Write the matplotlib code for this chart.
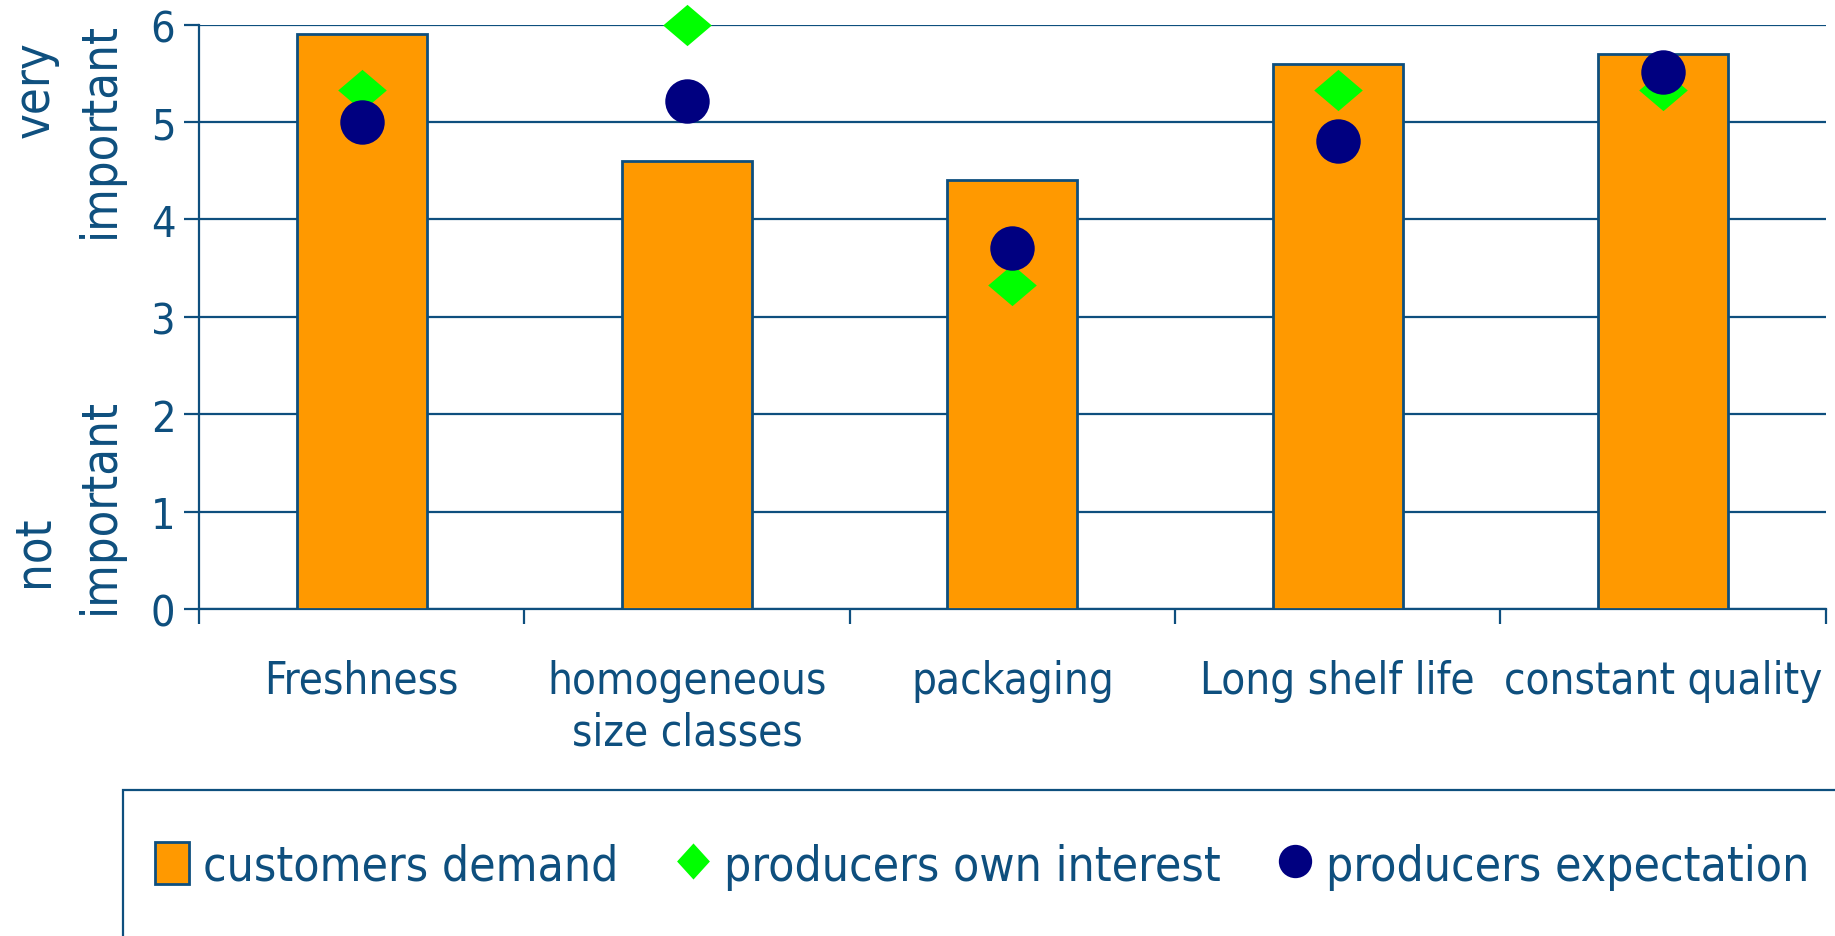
import matplotlib
matplotlib.use("Agg")
import matplotlib.pyplot as plt
import numpy as np
from matplotlib.patches import Rectangle
from matplotlib.lines import Line2D

# importance ratings, scale 0 (not important) .. 6 (very important)
CATEGORIES = ["Freshness", "homogeneous\nsize classes", "packaging",
              "Long shelf life", "constant quality"]
CUSTOMERS_DEMAND = [5.9, 4.6, 4.4, 5.6, 5.7]
PRODUCERS_OWN = [5.33, 6.0, 3.33, 5.33, 5.33]
PRODUCERS_EXPECT = [5.0, 5.22, 3.71, 4.81, 5.51]

BLUE = "#0E4F7E"
ORANGE = "#FF9900"
GREEN = "#00FF00"
NAVY = "#000080"

plt.rcParams["font.family"] = ["DejaVu Sans"]
plt.rcParams["font.stretch"] = "condensed"

# slightly flattened diamond
DIAMOND = [(-1, 0), (0, 0.85), (1, 0), (0, -0.85), (-1, 0)]

fig = plt.figure(figsize=(18.35, 9.37), dpi=100)
ax = fig.add_axes([0.1084, 0.349, 0.995 - 0.1084, 0.9726 - 0.349])

x = np.arange(1, len(CATEGORIES) + 1)
ax.bar(x, CUSTOMERS_DEMAND, width=0.4, color=ORANGE, edgecolor=BLUE,
       linewidth=2, zorder=3)
ax.plot(x, PRODUCERS_OWN, linestyle="none", marker=DIAMOND, color=GREEN,
        markersize=35, markeredgewidth=0, zorder=4, clip_on=False)
ax.plot(x, PRODUCERS_EXPECT, "o", color=NAVY, markersize=32, markeredgewidth=0,
        zorder=5, clip_on=False)

ax.set_xlim(0.5, len(CATEGORIES) + 0.5)
ax.set_ylim(0, 6)
ax.set_yticks(range(7))
ax.yaxis.grid(True, color=BLUE, linewidth=1.6, zorder=0)
ax.set_axisbelow(True)

ax.set_xticks(x)
ax.set_xticklabels(CATEGORIES, fontsize=31.5, color=BLUE, linespacing=1.25)
ax.set_xticks(np.arange(0.5, len(CATEGORIES) + 1), minor=True)
ax.tick_params(axis="x", which="major", length=0, pad=36)
ax.tick_params(axis="x", which="minor", length=11, width=1.6, color=BLUE,
               direction="out")
ax.tick_params(axis="y", length=11, width=1.6, color=BLUE, labelsize=31,
               labelcolor=BLUE, pad=6)

for side in ["top", "right"]:
    ax.spines[side].set_visible(False)
for side in ["left", "bottom"]:
    ax.spines[side].set_color(BLUE)
    ax.spines[side].set_linewidth(1.6)

# two-part y label: top and bottom of the scale
ylab = dict(rotation=90, fontsize=35, color=BLUE, ha="center", va="center")
fig.text(35 / 1835, 1 - 90 / 937, "very", **ylab)
fig.text(100 / 1835, 1 - 130 / 937, "important", **ylab)
fig.text(33 / 1835, 1 - 551 / 937, "not", **ylab)
fig.text(100 / 1835, 1 - 506 / 937, "important", **ylab)

# legend box runs off the lower right edge
fig.patches.append(Rectangle((123 / 1835, -0.2), 1.0, 0.2 + 1 - 791 / 937,
                             transform=fig.transFigure, fill=False,
                             edgecolor=BLUE, linewidth=1.6))
handles = [
    Rectangle((0, 0), 1, 1, facecolor=ORANGE, edgecolor=BLUE, linewidth=2),
    Line2D([], [], marker=[(-1, 0), (0, 1.1), (1, 0), (0, -1.1), (-1, 0)],
           color=GREEN, linestyle="none", markersize=26, markeredgewidth=0),
    Line2D([], [], marker="o", color=NAVY, linestyle="none", markersize=24,
           markeredgewidth=0),
]
labels = ["customers demand", "producers own interest", "producers expectation"]
leg = fig.legend(handles, labels, loc="center left",
                 bbox_to_anchor=(155 / 1835, 1 - 867 / 937), ncol=3,
                 frameon=False, fontsize=34.5, handlelength=0.7,
                 handleheight=0.95, handletextpad=0.3, columnspacing=1.2,
                 borderpad=0, borderaxespad=0)
for t in leg.get_texts():
    t.set_color(BLUE)

fig.savefig("out.png", dpi=100)
